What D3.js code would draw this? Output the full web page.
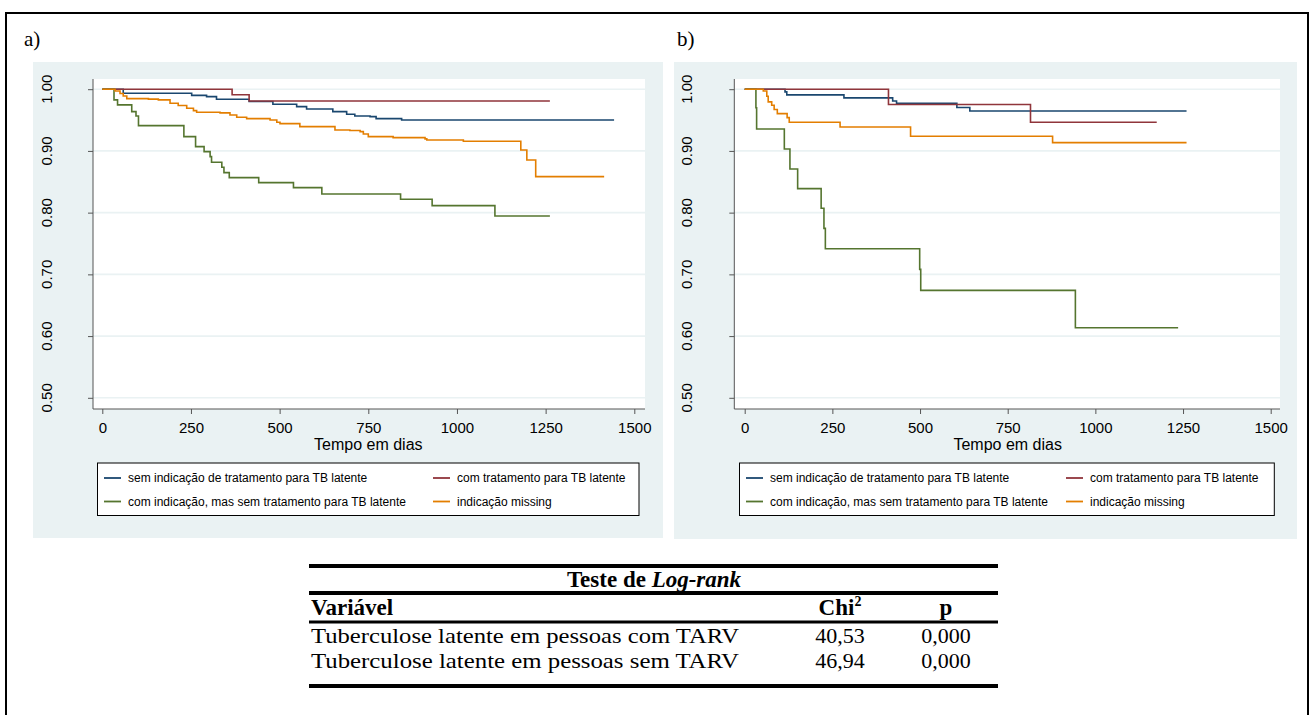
<!DOCTYPE html>
<html>
  <head>
    <meta charset="utf-8" />
    <title>Tuberculose latente - Kaplan-Meier</title>
    <script src="https://d3js.org/d3.v7.js"></script>
    <style>
      body { margin: 0; background: #fff; }
      text { font-family: 'Liberation Sans', Arial, sans-serif; }
      .serif { font-family: 'Liberation Serif', 'Times New Roman', serif; }
    </style>
  </head>
  <body>
    <svg width="1312" height="715"></svg>

    <script>
      (function (d3) {
        'use strict';

        // ---- data ----
        const xTicks = [0, 250, 500, 750, 1000, 1250, 1500];
        const yTicks = [0.5, 0.6, 0.7, 0.8, 0.9, 1.0];
        const xLabelText = 'Tempo em dias';

        const groupNames = [
          'sem indicação de tratamento para TB latente',
          'com tratamento para TB latente',
          'com indicação, mas sem tratamento para TB latente',
          'indicação missing',
        ];
        const groupColors = ['#1a476f', '#90353b', '#55752f', '#e37e00'];

        // panel a) [tempo, sobrevida]
        const aSem = [[0, 1], [59, 0.9935], [252, 0.990], [294, 0.988], [322, 0.9838],
          [414, 0.980], [481, 0.9757], [548, 0.9718], [576, 0.968], [650, 0.9637],
          [689, 0.9595], [712, 0.9567], [755, 0.9556], [772, 0.9524], [844, 0.9502],
          [1443, 0.9502]];
        const aCom = [[0, 1], [366, 0.991], [414, 0.981], [1262, 0.981]];
        const aInd = [[0, 1], [33, 0.9827], [43, 0.9746], [83, 0.9637], [95, 0.9567],
          [102, 0.941], [230, 0.9232], [263, 0.907], [287, 0.8989], [304, 0.8908],
          [308, 0.8817], [337, 0.8736], [343, 0.8649], [358, 0.8567], [441, 0.8486],
          [539, 0.8405], [619, 0.8303], [841, 0.8217], [930, 0.8114], [1107, 0.7946],
          [1262, 0.7946]];
        const aMis = [[0, 1], [36, 0.997], [50, 0.993], [59, 0.989], [69, 0.9848],
          [130, 0.984], [158, 0.9827], [191, 0.9773], [214, 0.9735], [238, 0.9692],
          [257, 0.9653], [266, 0.9627], [332, 0.9616], [360, 0.9583], [379, 0.9546],
          [407, 0.9524], [473, 0.9502], [492, 0.9465], [501, 0.9443], [557, 0.9394],
          [656, 0.934], [698, 0.933], [727, 0.9313], [736, 0.9275], [750, 0.9232],
          [820, 0.9216], [910, 0.9195], [915, 0.9178], [1018, 0.9157], [1180, 0.9016],
          [1197, 0.8854], [1222, 0.8584], [1415, 0.8584]];

        // panel b)
        const bSem = [[0, 1], [115, 0.9956], [120, 0.9908], [283, 0.986], [422, 0.981],
          [433, 0.977], [605, 0.9703], [642, 0.9648], [1260, 0.9648]];
        const bCom = [[0, 1], [410, 0.9752], [815, 0.9465], [1175, 0.9465]];
        const bInd = [[0, 1], [32, 0.97], [34, 0.9356], [113, 0.903], [129, 0.8707],
          [151, 0.8389], [218, 0.807], [226, 0.7745], [230, 0.7416], [499, 0.708],
          [502, 0.674], [943, 0.6134], [1236, 0.6134]];
        const bMis = [[0, 1], [53, 0.997], [63, 0.9886], [67, 0.9794], [77, 0.974],
          [84, 0.967], [93, 0.9605], [121, 0.954], [127, 0.9464], [272, 0.9388],
          [473, 0.9237], [878, 0.9135], [1260, 0.9135]];

        // log-rank table
        const tableTitle = 'Teste de ';
        const tableTitleItalic = 'Log-rank';
        const tableHeader = ['Variável', 'Chi', 'p'];
        const tableRows = [
          ['Tuberculose latente em pessoas com TARV', '40,53', '0,000'],
          ['Tuberculose latente em pessoas sem TARV', '46,94', '0,000'],
        ];

        // ---- layout ----
        const svg = d3.select('svg');
        const bg = '#eaf2f3';

        // outer frame
        svg.append('rect')
          .attr('x', 6).attr('y', 13)
          .attr('width', 1302).attr('height', 720)
          .attr('fill', 'none')
          .attr('stroke', '#000')
          .attr('stroke-width', 2);

        const panels = [
          {
            label: 'a)', labelX: 24,
            box: [33, 62, 663, 538],
            plot: [93, 79, 645, 409],
            t0: 102.3, t1: 634.3,
            ylabX: 52,
            legend: [97.5, 463, 639, 515.5], col1: 104, col2: 433,
            series: [aSem, aCom, aInd, aMis],
          },
          {
            label: 'b)', labelX: 677,
            box: [674, 62, 1297, 539],
            plot: [734.3, 79, 1280, 409],
            t0: 744.7, t1: 1270.7,
            ylabX: 692,
            legend: [739.5, 463, 1274.3, 515.5], col1: 746, col2: 1066,
            series: [bSem, bCom, bInd, bMis],
          },
        ];

        const yScale = d3.scaleLinear().domain([0.5, 1]).range([397.8, 89.2]);

        panels.forEach((p) => {
          const g = svg.append('g');

          g.append('text')
            .attr('class', 'serif')
            .attr('x', p.labelX)
            .attr('y', 46)
            .style('font-size', '21px')
            .text(p.label);

          g.append('rect')
            .attr('x', p.box[0]).attr('y', p.box[1])
            .attr('width', p.box[2] - p.box[0])
            .attr('height', p.box[3] - p.box[1])
            .attr('fill', bg);

          const [px0, py0, px1, py1] = p.plot;
          g.append('rect')
            .attr('x', px0).attr('y', py0)
            .attr('width', px1 - px0).attr('height', py1 - py0)
            .attr('fill', '#fff');

          const xScale = d3.scaleLinear().domain([0, 1500]).range([p.t0, p.t1]);

          // grid
          g.append('g')
            .selectAll('line')
            .data(yTicks)
            .enter()
            .append('line')
            .attr('x1', px0).attr('x2', px1)
            .attr('y1', (d) => yScale(d)).attr('y2', (d) => yScale(d))
            .attr('stroke', bg)
            .attr('stroke-width', 1.6);

          // y axis
          const yAxisG = g.append('g')
            .attr('transform', `translate(${px0},0)`)
            .call(d3.axisLeft(yScale).tickValues(yTicks).tickSize(5).tickFormat(() => ''));
          yAxisG.select('.domain')
            .attr('d', `M0,${py0}V${py1}`)
            .attr('stroke', '#555');
          yAxisG.selectAll('.tick line').attr('stroke', '#555');

          g.append('g')
            .selectAll('text')
            .data(yTicks)
            .enter()
            .append('text')
            .attr('transform', (d) => `translate(${p.ylabX},${yScale(d)}) rotate(-90)`)
            .attr('text-anchor', 'middle')
            .style('font-size', '15px')
            .text((d) => d3.format('.2f')(d));

          // x axis
          const xAxisG = g.append('g')
            .attr('transform', `translate(0,${py1})`)
            .call(d3.axisBottom(xScale)
              .tickValues(xTicks)
              .tickFormat(d3.format('d'))
              .tickSize(5)
              .tickPadding(8));
          xAxisG.select('.domain')
            .attr('d', `M${px0},0H${px1}`)
            .attr('stroke', '#555');
          xAxisG.selectAll('.tick line').attr('stroke', '#555');
          xAxisG.selectAll('.tick text')
            .attr('fill', '#000')
            .style('font-size', '15px')
            .style('font-family', "'Liberation Sans', Arial, sans-serif");

          g.append('text')
            .attr('x', xScale(750))
            .attr('y', 450)
            .attr('text-anchor', 'middle')
            .style('font-size', '16px')
            .text(xLabelText);

          // survival curves
          const line = d3.line()
            .x((d) => xScale(d[0]))
            .y((d) => yScale(d[1]))
            .curve(d3.curveStepAfter);

          g.append('g')
            .selectAll('path')
            .data(p.series)
            .enter()
            .append('path')
            .attr('d', line)
            .attr('fill', 'none')
            .attr('stroke', (d, i) => groupColors[i])
            .attr('stroke-width', 1.6);

          // legend
          const [lx0, ly0, lx1, ly1] = p.legend;
          g.append('rect')
            .attr('x', lx0).attr('y', ly0)
            .attr('width', lx1 - lx0).attr('height', ly1 - ly0)
            .attr('fill', '#fff')
            .attr('stroke', '#000')
            .attr('stroke-width', 1);

          const legendPos = [
            [p.col1, 478], [p.col2, 478],
            [p.col1, 501.5], [p.col2, 501.5],
          ];
          const lg = g.append('g')
            .selectAll('g')
            .data(groupNames)
            .enter()
            .append('g')
            .attr('transform', (d, i) => `translate(${legendPos[i][0]},${legendPos[i][1]})`);
          lg.append('line')
            .attr('x1', 0).attr('x2', 17)
            .attr('stroke', (d, i) => groupColors[i])
            .attr('stroke-width', 1.8);
          lg.append('text')
            .attr('x', 24)
            .attr('y', 4.3)
            .style('font-size', '12px')
            .text((d) => d);
        });

        // ---- log-rank table ----
        const tx0 = 309, tx1 = 998;
        const t = svg.append('g').attr('class', 'serif');
        const rules = [[566, 4], [593, 4], [622, 3], [686, 4]];
        t.selectAll('line')
          .data(rules)
          .enter()
          .append('line')
          .attr('x1', tx0).attr('x2', tx1)
          .attr('y1', (d) => d[0]).attr('y2', (d) => d[0])
          .attr('stroke', '#000')
          .attr('stroke-width', (d) => d[1]);

        const title = t.append('text')
          .attr('class', 'serif')
          .attr('x', 654)
          .attr('y', 587)
          .attr('text-anchor', 'middle')
          .style('font-size', '23px')
          .style('font-weight', 'bold');
        title.append('tspan').text(tableTitle);
        title.append('tspan').style('font-style', 'italic').text(tableTitleItalic);

        const colX = [311, 840, 946];
        t.append('text')
          .attr('class', 'serif')
          .attr('x', colX[0]).attr('y', 615)
          .style('font-size', '23px').style('font-weight', 'bold')
          .text(tableHeader[0]);
        const chi = t.append('text')
          .attr('class', 'serif')
          .attr('x', colX[1]).attr('y', 615)
          .attr('text-anchor', 'middle')
          .style('font-size', '23px').style('font-weight', 'bold');
        chi.append('tspan').text(tableHeader[1]);
        chi.append('tspan').attr('dy', -9).style('font-size', '14px').text('2');
        t.append('text')
          .attr('class', 'serif')
          .attr('x', colX[2]).attr('y', 615)
          .attr('text-anchor', 'middle')
          .style('font-size', '23px').style('font-weight', 'bold')
          .text(tableHeader[2]);

        const rowY = [643, 668];
        tableRows.forEach((r, i) => {
          r.forEach((cell, j) => {
            const cellText = t.append('text')
              .attr('class', 'serif')
              .attr('x', colX[j])
              .attr('y', rowY[i])
              .attr('text-anchor', j === 0 ? 'start' : 'middle')
              .style('font-size', '22px')
              .text(cell);
            if (j === 0) {
              cellText
                .attr('textLength', 428)
                .attr('lengthAdjust', 'spacingAndGlyphs');
            }
          });
        });
      })(d3);
    </script>
  </body>
</html>
